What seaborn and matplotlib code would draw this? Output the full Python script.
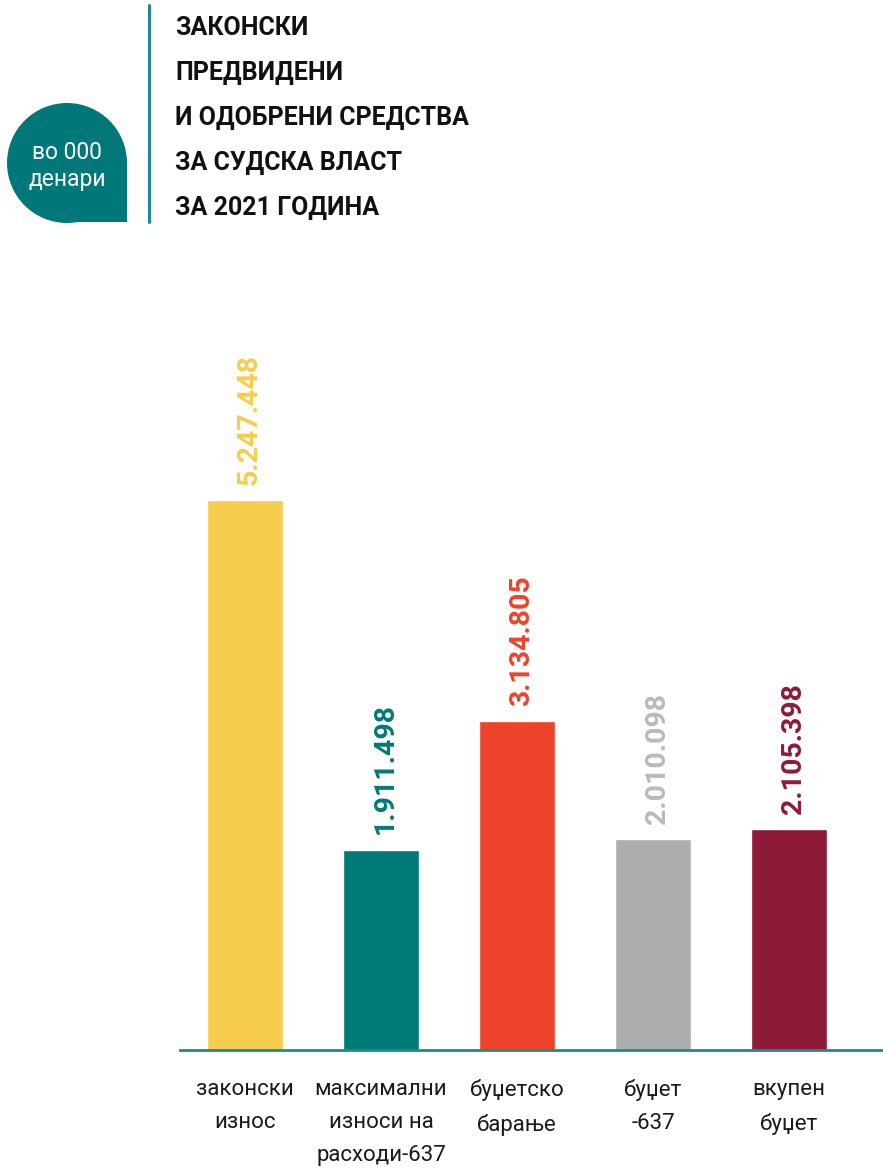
import matplotlib
matplotlib.use("Agg")
import matplotlib.pyplot as plt
import seaborn as sns
import pandas as pd
from matplotlib.patches import Circle, Rectangle

categories = ["законски\nизнос", "максимални\nизноси на\nрасходи-637", "буџетско\nбарање", "буџет\n-637", "вкупен\nбуџет"]
values = [5247448, 1911498, 3134805, 2010098, 2105398]
value_labels = ["5.247.448", "1.911.498", "3.134.805", "2.010.098", "2.105.398"]
bar_colors = ["#F6CD4C", "#007A78", "#EE432B", "#ADAEB0", "#8E1A3A"]
label_colors = ["#F6CD4C", "#007A78", "#EE432B", "#B9BABC", "#8E1A3A"]
title_lines = ["ЗАКОНСКИ", "ПРЕДВИДЕНИ", "И ОДОБРЕНИ СРЕДСТВА", "ЗА СУДСКА ВЛАСТ", "ЗА 2021 ГОДИНА"]
badge_text = "во 000\nденари"

sns.set_theme(style="white")
plt.rcParams["font.family"] = ["Roboto", "DejaVu Sans"]

W, H = 883, 1169
fig = plt.figure(figsize=(W / 100, H / 100), dpi=100)

# axes: left 180, right 883, top 300, bottom 1050 (pixels)
ax = fig.add_axes([180 / W, 1 - 1050 / H, (883 - 180) / W, 750 / H])

df = pd.DataFrame({"cat": categories, "val": values})
sns.barplot(data=df, x="cat", y="val", hue="cat", palette=bar_colors,
            width=0.56, legend=False, ax=ax, saturation=1)

ax.set_xlim(-0.478, 4.69)
ax.set_ylim(0, 750 * 9541)
ax.set_xlabel("")
ax.set_ylabel("")
ax.set_yticks([])
for s in ["left", "right", "top"]:
    ax.spines[s].set_visible(False)
ax.spines["bottom"].set_color("#1F8A8A")
ax.spines["bottom"].set_linewidth(2)
ax.tick_params(axis="x", length=0, pad=21, labelsize=16, labelcolor="#1a1a1a")
for t in ax.get_xticklabels():
    t.set_linespacing(1.75)
    t.set_va("top")

for i, (v, lab, c) in enumerate(zip(values, value_labels, label_colors)):
    ax.annotate(lab, xy=(i, v), xytext=(3, 11), textcoords="offset points",
                rotation=90, ha="center", va="bottom", fontsize=20.5,
                fontweight="bold", color=c)

# badge
bax = fig.add_axes([0, 0, 1, 1], zorder=-1)
bax.set_xlim(0, W)
bax.set_ylim(H, 0)
bax.axis("off")
teal = "#00787A"
bax.add_patch(Circle((67, 163), 60, color=teal, lw=0))
bax.add_patch(Rectangle((67, 163), 60, 59, color=teal, lw=0))
bax.text(67, 166, badge_text, ha="center", va="center", color="white",
         fontsize=16.5, fontweight="normal", linespacing=1.2)
bax.plot([149, 149], [5, 222], color="#1F8A8A", lw=2.2)

for k, line in enumerate(title_lines):
    bax.text(175, 28 + 45 * k, line, ha="left", va="center", fontsize=18,
             fontweight="bold", color="#111111")

fig.savefig("out.png", dpi=100)
